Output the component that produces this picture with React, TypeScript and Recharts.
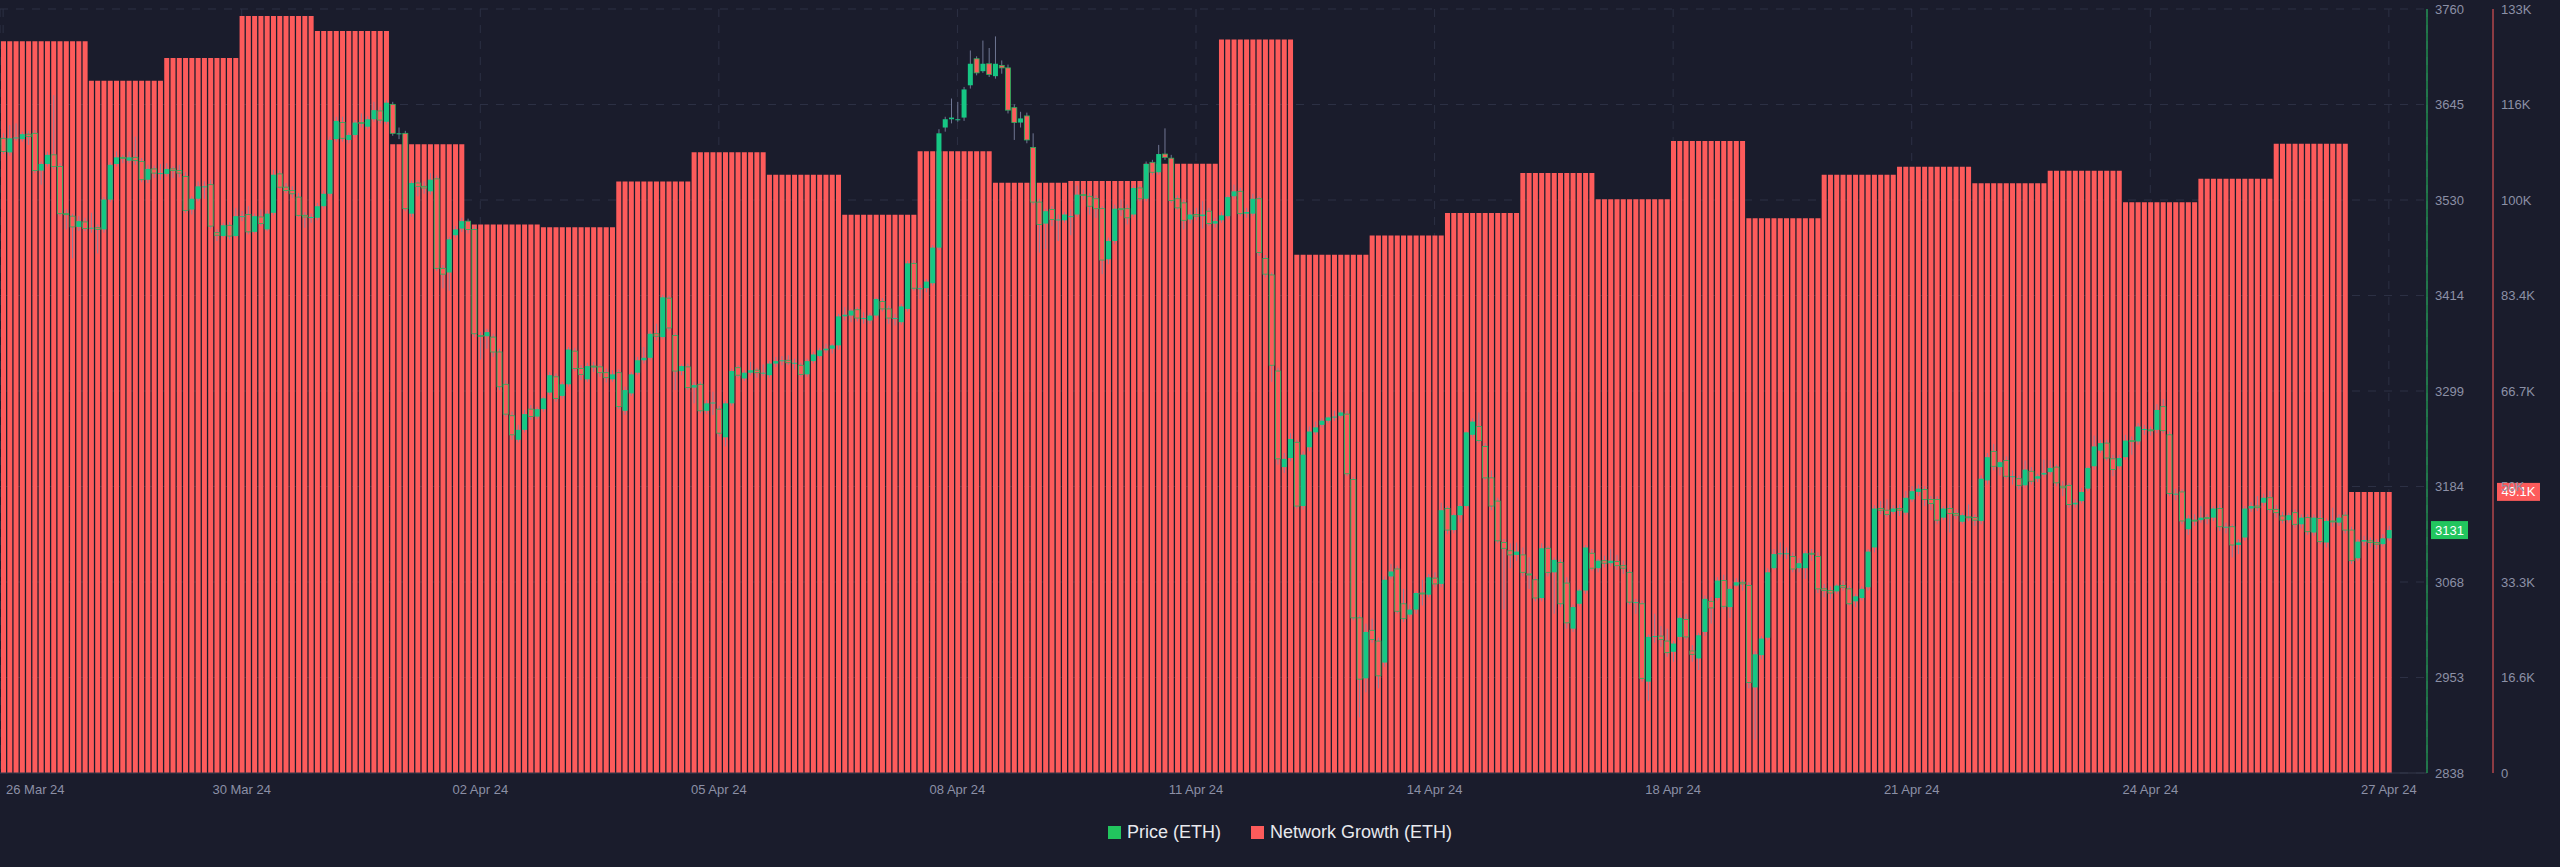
import React from 'react';
import { ComposedChart, Bar, XAxis, YAxis, CartesianGrid, ReferenceLine } from 'recharts';

// x-axis labels, one every TICK_STEP candles
const TICK_LABELS = ['26 Mar 24', '30 Mar 24', '02 Apr 24', '05 Apr 24', '08 Apr 24', '11 Apr 24', '14 Apr 24', '18 Apr 24', '21 Apr 24', '24 Apr 24', '27 Apr 24'];
const TICK_STEP = 38;

// daily network growth (ETH) and how many 2h candles each day spans
const DAILY_GROWTH = [127800, 120900, 124900, 132200, 129600, 109800, 95800, 95300, 103300, 108400, 104500, 97500, 108600, 103100, 103400, 106400, 128100, 90500, 93900, 97800, 104800, 100200, 110400, 96900, 104500, 105900, 103000, 105200, 99700, 103800, 109900, 49100];
const BARS_PER_DAY = [14, 12, 12, 12, 12, 12, 12, 12, 12, 12, 12, 12, 12, 12, 12, 12, 12, 12, 12, 12, 12, 12, 12, 12, 12, 12, 12, 12, 12, 12, 12, 7];

const PRICE_TICKS = [2837.7, 2953, 3068.3, 3183.6, 3298.9, 3414.2, 3529.5, 3644.8, 3760.1];
const GROWTH_TICKS = [0, 16680, 33360, 50040, 66720, 83400, 100080, 116760, 133440];
const GROWTH_TICK_LABELS = ['0', '16.6K', '33.3K', '50K', '66.7K', '83.4K', '100K', '116K', '133K'];

const LAST_PRICE = 3131;
const LAST_GROWTH = 49100;

// 2h candles: [open, high, low, close]
const PRICE_OHLC: [number, number, number, number][] = [
  [3604, 3610, 3585, 3588], [3587, 3620, 3583, 3604], [3604, 3622, 3601, 3605], [3603, 3612, 3600, 3609], [3609, 3613, 3596, 3606], [3610, 3614, 3562, 3565],
  [3565, 3576, 3548, 3573], [3573, 3588, 3570, 3584], [3584, 3656, 3567, 3570], [3570, 3574, 3510, 3513], [3513, 3518, 3494, 3512], [3510, 3513, 3459, 3497],
  [3497, 3510, 3492, 3504], [3503, 3508, 3492, 3495], [3495, 3514, 3490, 3496], [3496, 3500, 3465, 3494], [3494, 3533, 3490, 3530], [3530, 3575, 3527, 3572],
  [3573, 3588, 3570, 3581], [3581, 3584, 3574, 3580], [3577, 3588, 3574, 3581], [3581, 3606, 3572, 3577], [3576, 3580, 3551, 3554], [3554, 3572, 3550, 3567],
  [3567, 3571, 3556, 3562], [3562, 3573, 3554, 3562], [3561, 3574, 3558, 3567], [3567, 3570, 3556, 3565], [3565, 3572, 3557, 3562], [3558, 3563, 3514, 3517],
  [3518, 3534, 3512, 3531], [3531, 3552, 3528, 3546], [3546, 3552, 3531, 3546], [3548, 3554, 3495, 3498], [3490, 3494, 3480, 3487], [3486, 3502, 3484, 3499],
  [3499, 3503, 3482, 3486], [3486, 3520, 3484, 3510], [3510, 3516, 3504, 3510], [3512, 3522, 3488, 3491], [3491, 3513, 3489, 3510], [3509, 3518, 3498, 3501],
  [3494, 3517, 3492, 3513], [3514, 3566, 3511, 3560], [3561, 3565, 3543, 3545], [3545, 3550, 3538, 3541], [3541, 3546, 3532, 3537], [3533, 3538, 3509, 3511],
  [3511, 3515, 3496, 3509], [3509, 3513, 3502, 3509], [3508, 3526, 3505, 3522], [3522, 3541, 3519, 3537], [3537, 3606, 3534, 3602], [3603, 3630, 3600, 3625],
  [3623, 3630, 3600, 3604], [3602, 3611, 3598, 3608], [3608, 3626, 3605, 3623], [3623, 3634, 3617, 3622], [3618, 3631, 3615, 3627], [3627, 3648, 3624, 3638],
  [3637, 3642, 3622, 3626], [3624, 3650, 3621, 3647], [3645, 3648, 3607, 3610], [3610, 3617, 3603, 3610], [3610, 3613, 3516, 3519], [3513, 3553, 3509, 3550],
  [3550, 3553, 3534, 3546], [3546, 3552, 3537, 3544], [3540, 3562, 3536, 3554], [3555, 3559, 3444, 3447], [3447, 3451, 3423, 3440], [3442, 3485, 3420, 3482],
  [3487, 3498, 3484, 3494], [3495, 3508, 3491, 3504], [3504, 3507, 3489, 3494], [3494, 3498, 3364, 3368], [3366, 3370, 3337, 3365], [3365, 3374, 3350, 3370],
  [3364, 3368, 3340, 3346], [3346, 3350, 3300, 3304], [3307, 3312, 3268, 3271], [3269, 3274, 3240, 3246], [3240, 3258, 3237, 3252], [3252, 3276, 3249, 3271],
  [3277, 3282, 3264, 3268], [3268, 3280, 3265, 3277], [3277, 3292, 3274, 3290], [3297, 3322, 3294, 3318], [3316, 3320, 3286, 3290], [3293, 3310, 3290, 3307],
  [3307, 3352, 3304, 3349], [3347, 3351, 3323, 3326], [3326, 3330, 3312, 3319], [3313, 3333, 3310, 3329], [3329, 3334, 3322, 3328], [3328, 3331, 3316, 3321],
  [3321, 3326, 3309, 3315], [3313, 3324, 3310, 3319], [3321, 3325, 3277, 3280], [3275, 3304, 3270, 3300], [3296, 3322, 3293, 3319], [3321, 3340, 3318, 3336],
  [3336, 3352, 3332, 3339], [3339, 3371, 3336, 3368], [3368, 3380, 3360, 3365], [3364, 3415, 3362, 3412], [3411, 3414, 3372, 3375], [3366, 3369, 3300, 3323],
  [3323, 3331, 3318, 3329], [3328, 3332, 3300, 3303], [3303, 3310, 3284, 3306], [3307, 3310, 3272, 3275], [3275, 3288, 3271, 3284], [3284, 3298, 3270, 3285],
  [3277, 3281, 3244, 3248], [3243, 3287, 3232, 3284], [3284, 3326, 3281, 3323], [3327, 3330, 3315, 3318], [3314, 3324, 3311, 3321], [3321, 3334, 3318, 3324],
  [3324, 3327, 3315, 3321], [3321, 3331, 3317, 3321], [3318, 3335, 3315, 3332], [3332, 3340, 3328, 3335], [3335, 3341, 3330, 3336], [3336, 3342, 3330, 3333],
  [3333, 3338, 3325, 3333], [3330, 3333, 3316, 3319], [3319, 3338, 3316, 3335], [3335, 3346, 3332, 3343], [3341, 3351, 3338, 3348], [3348, 3356, 3345, 3350],
  [3350, 3356, 3344, 3354], [3354, 3392, 3349, 3389], [3389, 3400, 3384, 3391], [3390, 3398, 3382, 3396], [3397, 3400, 3383, 3387], [3387, 3394, 3380, 3387],
  [3384, 3393, 3380, 3390], [3390, 3412, 3387, 3410], [3407, 3411, 3395, 3398], [3398, 3402, 3380, 3387], [3387, 3392, 3378, 3387], [3382, 3404, 3379, 3401],
  [3398, 3456, 3395, 3453], [3453, 3457, 3420, 3423], [3423, 3427, 3410, 3423], [3423, 3434, 3418, 3431], [3429, 3475, 3426, 3472], [3472, 3615, 3469, 3610],
  [3617, 3630, 3612, 3627], [3627, 3652, 3622, 3629], [3627, 3648, 3624, 3627], [3629, 3666, 3625, 3663], [3668, 3710, 3664, 3694], [3700, 3703, 3680, 3683],
  [3685, 3722, 3683, 3694], [3694, 3713, 3678, 3681], [3679, 3727, 3676, 3694], [3692, 3698, 3682, 3689], [3689, 3693, 3634, 3638], [3641, 3645, 3602, 3623],
  [3623, 3636, 3617, 3628], [3631, 3635, 3598, 3602], [3593, 3610, 3524, 3527], [3527, 3531, 3466, 3500], [3501, 3519, 3470, 3516], [3518, 3522, 3498, 3506],
  [3506, 3512, 3480, 3506], [3505, 3515, 3502, 3512], [3510, 3518, 3487, 3510], [3512, 3547, 3509, 3536], [3536, 3542, 3530, 3535], [3534, 3538, 3512, 3522],
  [3531, 3535, 3508, 3519], [3519, 3522, 3440, 3457], [3458, 3484, 3452, 3480], [3480, 3524, 3476, 3519], [3519, 3530, 3510, 3518], [3519, 3524, 3500, 3508],
  [3512, 3547, 3509, 3544], [3544, 3547, 3528, 3531], [3531, 3576, 3528, 3573], [3575, 3578, 3560, 3563], [3563, 3596, 3560, 3585], [3585, 3616, 3578, 3581],
  [3580, 3584, 3526, 3529], [3531, 3535, 3518, 3520], [3526, 3530, 3494, 3505], [3506, 3517, 3501, 3512], [3512, 3520, 3505, 3510], [3510, 3528, 3495, 3512],
  [3516, 3520, 3498, 3501], [3501, 3508, 3496, 3504], [3505, 3515, 3502, 3511], [3510, 3535, 3507, 3533], [3534, 3548, 3531, 3540], [3540, 3544, 3510, 3513],
  [3513, 3520, 3508, 3515], [3513, 3537, 3510, 3531], [3531, 3534, 3462, 3466], [3459, 3463, 3436, 3440], [3439, 3442, 3310, 3330], [3323, 3327, 3210, 3217],
  [3207, 3224, 3200, 3217], [3218, 3248, 3214, 3241], [3237, 3240, 3157, 3160], [3160, 3226, 3156, 3222], [3231, 3256, 3226, 3250], [3249, 3262, 3246, 3255],
  [3258, 3266, 3255, 3263], [3263, 3268, 3260, 3267], [3267, 3275, 3263, 3268], [3269, 3276, 3266, 3273], [3271, 3275, 3196, 3199], [3192, 3195, 3022, 3025],
  [3025, 3028, 2905, 2951], [2952, 3018, 2935, 3008], [3010, 3024, 2995, 2999], [2997, 3001, 2940, 2955], [2971, 3075, 2966, 3071], [3075, 3090, 3072, 3081],
  [3084, 3088, 3030, 3033], [3042, 3060, 3020, 3024], [3029, 3041, 3026, 3035], [3035, 3057, 3030, 3055], [3055, 3071, 3040, 3054], [3053, 3078, 3050, 3074],
  [3073, 3080, 3062, 3066], [3066, 3164, 3062, 3155], [3157, 3160, 3126, 3131], [3131, 3151, 3127, 3149], [3149, 3163, 3140, 3160], [3160, 3250, 3157, 3249],
  [3246, 3266, 3243, 3262], [3256, 3273, 3236, 3239], [3232, 3236, 3192, 3194], [3194, 3203, 3155, 3160], [3166, 3170, 3115, 3118], [3116, 3120, 3035, 3109],
  [3106, 3115, 3085, 3101], [3101, 3116, 3094, 3105], [3101, 3110, 3075, 3080], [3078, 3098, 3060, 3077], [3071, 3075, 3045, 3049], [3049, 3115, 3045, 3109],
  [3109, 3112, 3075, 3080], [3080, 3098, 3030, 3095], [3092, 3096, 3038, 3042], [3067, 3074, 3012, 3019], [3012, 3041, 3008, 3038], [3042, 3060, 3039, 3058],
  [3058, 3113, 3054, 3110], [3103, 3108, 3082, 3085], [3085, 3096, 3080, 3094], [3094, 3100, 3086, 3091], [3091, 3108, 3087, 3094], [3093, 3101, 3083, 3088],
  [3088, 3094, 3078, 3085], [3080, 3083, 3041, 3044], [3044, 3048, 3030, 3044], [3042, 3046, 2948, 2952], [2948, 3005, 2925, 3002], [3002, 3030, 2995, 3003],
  [3003, 3015, 2990, 2999], [2997, 3012, 2978, 2983], [2984, 2997, 2972, 2994], [3002, 3028, 2998, 3025], [3023, 3030, 2999, 3002], [2985, 2992, 2972, 2981],
  [2976, 3007, 2962, 3004], [3008, 3052, 3003, 3048], [3045, 3050, 3018, 3037], [3049, 3074, 3046, 3070], [3070, 3077, 3036, 3039], [3038, 3063, 3025, 3060],
  [3064, 3073, 3062, 3068], [3068, 3071, 3058, 3066], [3064, 3068, 2940, 2947], [2941, 2985, 2878, 2981], [2980, 3003, 2975, 3000], [3001, 3085, 2998, 3080],
  [3085, 3108, 3083, 3102], [3102, 3116, 3098, 3103], [3103, 3110, 3096, 3103], [3099, 3104, 3080, 3084], [3085, 3097, 3080, 3091], [3085, 3106, 3072, 3103],
  [3103, 3108, 3094, 3102], [3099, 3104, 3055, 3060], [3060, 3066, 3050, 3058], [3058, 3063, 3048, 3055], [3057, 3066, 3054, 3064], [3064, 3070, 3058, 3062],
  [3060, 3064, 3040, 3042], [3045, 3054, 3038, 3051], [3049, 3063, 3046, 3060], [3062, 3108, 3058, 3105], [3110, 3161, 3104, 3157], [3157, 3166, 3150, 3155],
  [3155, 3168, 3147, 3150], [3153, 3161, 3150, 3157], [3157, 3162, 3148, 3155], [3152, 3178, 3149, 3170], [3168, 3184, 3165, 3178], [3177, 3186, 3172, 3181],
  [3180, 3184, 3160, 3168], [3168, 3172, 3155, 3163], [3168, 3172, 3138, 3143], [3146, 3160, 3143, 3157], [3157, 3162, 3128, 3151], [3151, 3156, 3144, 3149],
  [3141, 3152, 3138, 3149], [3147, 3162, 3142, 3146], [3146, 3150, 3136, 3143], [3142, 3197, 3138, 3193], [3191, 3224, 3186, 3219], [3226, 3235, 3203, 3208],
  [3207, 3215, 3197, 3213], [3215, 3220, 3193, 3196], [3196, 3203, 3186, 3196], [3193, 3197, 3180, 3185], [3185, 3215, 3182, 3204], [3202, 3207, 3186, 3190],
  [3193, 3199, 3189, 3196], [3198, 3216, 3195, 3200], [3201, 3215, 3198, 3206], [3207, 3210, 3184, 3188], [3184, 3190, 3172, 3182], [3185, 3188, 3158, 3162],
  [3162, 3168, 3158, 3164], [3166, 3182, 3163, 3177], [3181, 3208, 3178, 3206], [3208, 3245, 3204, 3232], [3227, 3240, 3224, 3236], [3236, 3240, 3215, 3218],
  [3217, 3222, 3196, 3204], [3208, 3222, 3205, 3218], [3219, 3246, 3216, 3239], [3239, 3244, 3222, 3238], [3238, 3260, 3234, 3256], [3253, 3258, 3246, 3253],
  [3252, 3256, 3245, 3251], [3252, 3283, 3248, 3276], [3280, 3289, 3248, 3251], [3246, 3250, 3172, 3175], [3175, 3181, 3167, 3175], [3177, 3180, 3138, 3142],
  [3132, 3149, 3125, 3145], [3143, 3150, 3136, 3142], [3143, 3160, 3140, 3146], [3146, 3150, 3138, 3145], [3146, 3160, 3142, 3157], [3157, 3162, 3130, 3135],
  [3135, 3140, 3127, 3135], [3135, 3138, 3098, 3113], [3113, 3120, 3102, 3116], [3122, 3160, 3118, 3157], [3157, 3165, 3153, 3160], [3160, 3172, 3154, 3158],
  [3164, 3175, 3160, 3170], [3170, 3178, 3152, 3156], [3156, 3161, 3146, 3152], [3148, 3153, 3139, 3143], [3143, 3152, 3140, 3149], [3152, 3156, 3134, 3138],
  [3138, 3150, 3133, 3146], [3146, 3150, 3125, 3129], [3128, 3150, 3124, 3146], [3145, 3155, 3114, 3117], [3116, 3145, 3110, 3142], [3142, 3158, 3135, 3141],
  [3140, 3150, 3136, 3146], [3149, 3153, 3127, 3131], [3131, 3135, 3090, 3094], [3097, 3120, 3094, 3117], [3117, 3124, 3112, 3119], [3118, 3122, 3110, 3116],
  [3116, 3120, 3108, 3114], [3114, 3126, 3111, 3121], [3121, 3136, 3118, 3131],
];

const BG = '#1a1c2c';
const GROWTH_RED = '#fd5b5b';
const UP_GREEN = '#16c784';
const DOWN_EDGE = '#27b35c';
const WICK = '#7f86a6';
const AXIS_TEXT = '#8c90a6';
const PRICE_GREEN = '#22c55e';

const growthPerBar: number[] = [];
DAILY_GROWTH.forEach((v, d) => {
  for (let k = 0; k < BARS_PER_DAY[d]; k++) growthPerBar.push(v);
});

const chartData = PRICE_OHLC.map(([o, h, l, c], i) => ({
  idx: i,
  growth: growthPerBar[i],
  range: [l, h],
  o, h, l, c,
}));

const xTicks = TICK_LABELS.map((_, k) => k * TICK_STEP);

const Candle = (props: any) => {
  const { x, y, width, height, payload } = props;
  if (!payload) return null;
  const { o, h, l, c } = payload;
  const top = Math.min(y, y + height);
  const bot = Math.max(y, y + height);
  const span = h - l || 1;
  const py = (v: number) => top + ((h - v) / span) * (bot - top);
  const up = c >= o;
  const bTop = py(Math.max(o, c));
  const bBot = py(Math.min(o, c));
  const cx = x + width / 2;
  return (
    <g>
      <line x1={cx} x2={cx} y1={top} y2={bot} stroke={WICK} strokeWidth={1} strokeOpacity={0.85} />
      <rect
        x={x}
        y={bTop}
        width={width}
        height={Math.max(1, bBot - bTop)}
        fill={up ? UP_GREEN : GROWTH_RED}
        stroke={up ? 'none' : DOWN_EDGE}
        strokeWidth={up ? 0 : 0.8}
      />
    </g>
  );
};

const XTick = (props: any) => {
  const { x, y, payload } = props;
  const label = TICK_LABELS[Math.round(payload.value / TICK_STEP)];
  const first = payload.value === 0;
  return (
    <text x={first ? 6 : x} y={y + 4} dy="0.71em" textAnchor={first ? 'start' : 'middle'} fill={AXIS_TEXT} fontSize={13}>
      {label}
    </text>
  );
};

const ValueTag = ({ viewBox, text, fill, shiftX, w }: any) => {
  if (!viewBox) return null;
  const x = viewBox.x + viewBox.width + shiftX;
  const y = viewBox.y;
  return (
    <g>
      <rect x={x} y={y - 9} width={w} height={18} fill={fill} />
      <text x={x + w / 2} y={y + 1} textAnchor="middle" dominantBaseline="middle" fill="#ffffff" fontSize={13}>
        {text}
      </text>
    </g>
  );
};

export default function App() {
  return (
    <div
      style={{
        position: 'absolute',
        left: 0,
        top: 0,
        width: 2560,
        height: 867,
        background: BG,
        fontFamily: '"Liberation Sans", Arial, sans-serif',
      }}
    >
      <ComposedChart
        width={2560}
        height={867}
        data={chartData}
        margin={{ top: 9, right: 0, bottom: 64, left: 0 }}
        barCategoryGap={0}
      >
        <CartesianGrid xAxisId="main" yAxisId="a_price" stroke="#2c3044" strokeDasharray="8 8" />
        <XAxis
          xAxisId="main"
          dataKey="idx"
          type="category"
          ticks={xTicks}
          interval={0}
          height={30}
          padding={{ left: 0, right: 35 }}
          axisLine={{ stroke: '#34384a' }}
          tickLine={false}
          tick={<XTick />}
        />
        <XAxis xAxisId="price" dataKey="idx" type="category" hide padding={{ left: 0, right: 35 }} />
        <YAxis
          yAxisId="a_price"
          orientation="right"
          domain={[PRICE_TICKS[0], PRICE_TICKS[PRICE_TICKS.length - 1]]}
          ticks={PRICE_TICKS}
          allowDataOverflow
          width={66}
          axisLine={{ stroke: PRICE_GREEN }}
          tickLine={false}
          tick={{ fill: AXIS_TEXT, fontSize: 13 }}
          tickFormatter={(v: number) => String(Math.round(v))}
        />
        <YAxis
          yAxisId="b_growth"
          orientation="right"
          domain={[0, GROWTH_TICKS[GROWTH_TICKS.length - 1]]}
          ticks={GROWTH_TICKS}
          width={67}
          axisLine={{ stroke: GROWTH_RED }}
          tickLine={false}
          tick={{ fill: AXIS_TEXT, fontSize: 13 }}
          tickFormatter={(_v: number, i: number) => GROWTH_TICK_LABELS[i]}
        />
        <Bar
          xAxisId="main"
          yAxisId="b_growth"
          dataKey="growth"
          name="Network Growth (ETH)"
          fill={GROWTH_RED}
          barSize={5}
          isAnimationActive={false}
        />
        <Bar
          xAxisId="price"
          yAxisId="a_price"
          dataKey="range"
          name="Price (ETH)"
          barSize={5}
          shape={<Candle />}
          isAnimationActive={false}
        />
        <ReferenceLine
          xAxisId="main"
          yAxisId="a_price"
          y={LAST_PRICE}
          stroke="none"
          label={<ValueTag text={String(LAST_PRICE)} fill={PRICE_GREEN} shiftX={4} w={37} />}
        />
        <ReferenceLine
          xAxisId="main"
          yAxisId="b_growth"
          y={LAST_GROWTH}
          stroke="none"
          label={<ValueTag text="49.1K" fill={GROWTH_RED} shiftX={70} w={43} />}
        />
      </ComposedChart>
      <div
        style={{
          position: 'absolute',
          top: 822,
          left: 0,
          width: 2560,
          display: 'flex',
          justifyContent: 'center',
          alignItems: 'center',
          color: '#e8e9ee',
          fontSize: 18,
          gap: 30,
        }}
      >
        <span style={{ display: 'flex', alignItems: 'center', gap: 6 }}>
          <span style={{ width: 13, height: 13, background: PRICE_GREEN, display: 'inline-block' }} />
          Price (ETH)
        </span>
        <span style={{ display: 'flex', alignItems: 'center', gap: 6 }}>
          <span style={{ width: 13, height: 13, background: GROWTH_RED, display: 'inline-block' }} />
          Network Growth (ETH)
        </span>
      </div>
    </div>
  );
}
